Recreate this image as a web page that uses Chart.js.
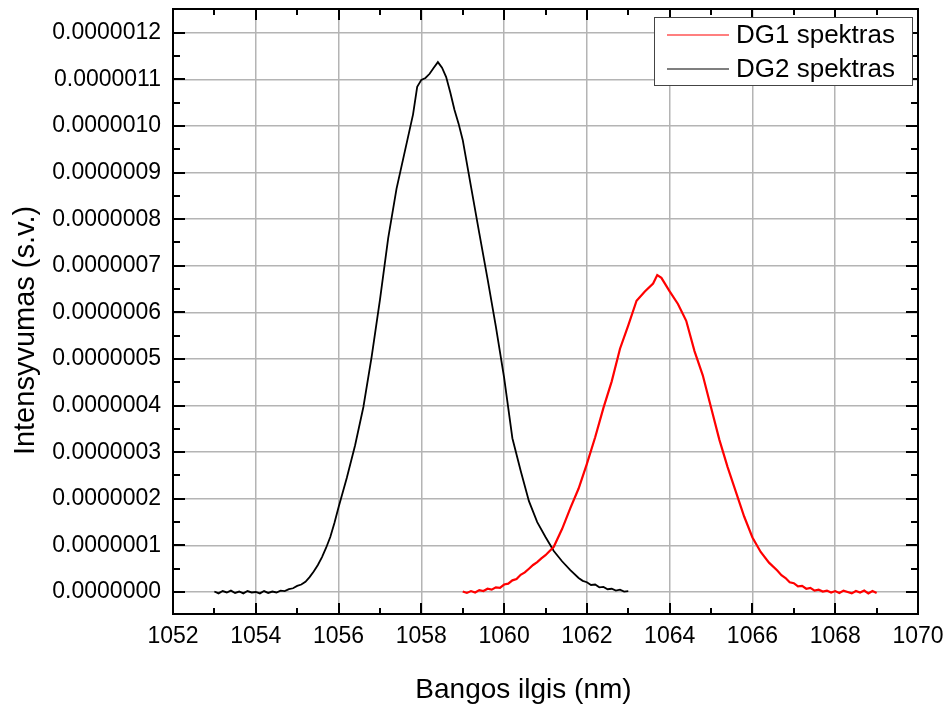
<!DOCTYPE html>
<html>
<head>
<meta charset="utf-8">
<script src="https://cdn.jsdelivr.net/npm/chart.js@4.4.0/dist/chart.umd.min.js"></script>
<style>
  html, body { margin: 0; padding: 0; background: #fff; }
  #wrap { width: 949px; height: 708px; }
</style>
</head>
<body>
<div id="wrap"><canvas id="chart"></canvas></div>
<script>
// tick labels
const xTicks = [1052, 1054, 1056, 1058, 1060, 1062, 1064, 1066, 1068, 1070]
const yTicks = [0, 1, 2, 3, 4, 5, 6, 7, 8, 9, 10, 11, 12]   // x 1e-7
const yUnit = 1e-7

const xTitle = 'Bangos ilgis (nm)'
const yTitle = 'Intensyvumas (s.v.)'
const seriesNames = ['DG1 spektras', 'DG2 spektras']
const seriesColors = ['#ff0000', '#000000']

// DG1 (red), intensity in units of 1e-7
const dg1Wavelength = [1059.0, 1059.1, 1059.2, 1059.3, 1059.4, 1059.5, 1059.6, 1059.7, 1059.8, 1059.9,
  1060.0, 1060.1, 1060.2, 1060.3, 1060.4, 1060.5, 1060.6, 1060.7, 1060.8, 1060.9,
  1061.0, 1061.2, 1061.4, 1061.6, 1061.8, 1062.0, 1062.2, 1062.4, 1062.6, 1062.8,
  1063.0, 1063.2, 1063.4, 1063.6, 1063.7, 1063.8, 1064.0, 1064.2, 1064.4, 1064.6,
  1064.8, 1065.0, 1065.2, 1065.4, 1065.6, 1065.8, 1066.0, 1066.2, 1066.4, 1066.6,
  1066.7, 1066.8, 1066.9, 1067.0, 1067.1, 1067.2, 1067.3, 1067.4, 1067.5, 1067.6,
  1067.7, 1067.8, 1067.9, 1068.0, 1068.1, 1068.2, 1068.3, 1068.4, 1068.5, 1068.6,
  1068.7, 1068.8, 1068.9, 1069.0]
const dg1Intensity = [0.01, -0.02, 0.02, -0.01, 0.04, 0.02, 0.07, 0.05, 0.10, 0.09,
  0.16, 0.18, 0.25, 0.28, 0.37, 0.42, 0.50, 0.58, 0.64, 0.72,
  0.79, 0.97, 1.35, 1.80, 2.22, 2.75, 3.32, 3.95, 4.52, 5.22,
  5.72, 6.25, 6.45, 6.62, 6.80, 6.74, 6.45, 6.18, 5.82, 5.17,
  4.65, 3.96, 3.27, 2.68, 2.15, 1.62, 1.17, 0.86, 0.63, 0.46,
  0.36, 0.30, 0.21, 0.19, 0.12, 0.13, 0.07, 0.09, 0.03, 0.05,
  0.01, 0.03, -0.01, 0.02, -0.02, 0.03, 0.00, -0.03, 0.02, -0.01,
  0.03, -0.03, 0.02, -0.02]

// DG2 (black)
const dg2Wavelength = [1053.0, 1053.1, 1053.2, 1053.3, 1053.4, 1053.5, 1053.6, 1053.7, 1053.8, 1053.9,
  1054.0, 1054.1, 1054.2, 1054.3, 1054.4, 1054.5, 1054.6, 1054.7, 1054.8, 1054.9,
  1055.0, 1055.1, 1055.2, 1055.3, 1055.4, 1055.5, 1055.6, 1055.7, 1055.8, 1055.9,
  1056.0, 1056.2, 1056.4, 1056.6, 1056.8, 1057.0, 1057.2, 1057.4, 1057.6, 1057.8,
  1057.9, 1058.0, 1058.1, 1058.2, 1058.3, 1058.4, 1058.5, 1058.6, 1058.7, 1058.8,
  1058.9, 1059.0, 1059.2, 1059.4, 1059.6, 1059.8, 1060.0, 1060.2, 1060.4, 1060.6,
  1060.8, 1061.0, 1061.2, 1061.4, 1061.6, 1061.8, 1061.9, 1062.0, 1062.1, 1062.2,
  1062.3, 1062.4, 1062.5, 1062.6, 1062.7, 1062.8, 1062.9, 1063.0]
const dg2Intensity = [0.01, -0.03, 0.02, -0.01, 0.03, -0.02, 0.01, -0.03, 0.02, -0.01,
  0.00, -0.03, 0.02, -0.02, 0.01, -0.01, 0.03, 0.02, 0.06, 0.08,
  0.13, 0.16, 0.22, 0.32, 0.44, 0.58, 0.75, 0.95, 1.18, 1.48,
  1.82, 2.45, 3.15, 3.97, 5.05, 6.27, 7.60, 8.65, 9.45, 10.25,
  10.84, 10.99, 11.03, 11.12, 11.25, 11.37, 11.25, 11.05, 10.72, 10.35,
  10.05, 9.70, 8.70, 7.70, 6.72, 5.70, 4.60, 3.30, 2.60, 1.95,
  1.50, 1.18, 0.88, 0.66, 0.47, 0.30, 0.24, 0.21, 0.15, 0.16,
  0.10, 0.11, 0.06, 0.07, 0.03, 0.05, 0.01, 0.02]

const FONT = "'Liberation Sans', Arial, sans-serif"

function toPoints(xs, ys){
  return xs.map((x, i) => ({ x: x, y: ys[i] * yUnit }))
}

// inward ticks on all four sides + frame
const frameTicks = {
  id: 'frameTicks',
  afterDraw(chart){
    const ctx = chart.ctx
    const a = chart.chartArea
    const xs = chart.scales.x, ys = chart.scales.y
    ctx.save()
    ctx.strokeStyle = '#000'
    ctx.lineWidth = 2
    ctx.beginPath()
    for (let v = xTicks[0]; v <= xTicks[xTicks.length - 1]; v += 1){
      const px = Math.round(xs.getPixelForValue(v))
      const len = xTicks.includes(v) ? 11 : 6
      ctx.moveTo(px, a.bottom); ctx.lineTo(px, a.bottom - len)
      ctx.moveTo(px, a.top); ctx.lineTo(px, a.top + len)
    }
    for (let k = 0; k <= yTicks[yTicks.length - 1] * 2; k++){
      const py = Math.round(ys.getPixelForValue(k / 2 * yUnit))
      const len = (k % 2 === 0) ? 12 : 7
      ctx.moveTo(a.left, py); ctx.lineTo(a.left + len, py)
      ctx.moveTo(a.right, py); ctx.lineTo(a.right - len, py)
    }
    ctx.stroke()
    ctx.strokeRect(a.left, a.top, a.right - a.left, a.bottom - a.top)
    ctx.restore()
  }
}

// axis titles (placed as in the original, a bit off-centre)
const axisTitles = {
  id: 'axisTitles',
  afterDraw(chart){
    const ctx = chart.ctx
    const a = chart.chartArea
    ctx.save()
    ctx.fillStyle = '#000'
    ctx.textAlign = 'center'
    ctx.textBaseline = 'middle'
    ctx.font = '28px ' + FONT
    ctx.fillText(xTitle, (a.left + a.right) / 2 - 22, 690)
    ctx.translate(26, (a.top + a.bottom) / 2 + 19)
    ctx.rotate(-Math.PI / 2)
    ctx.font = '29px ' + FONT
    ctx.fillText(yTitle, 0, 0)
    ctx.restore()
  }
}

// legend box in the upper right corner
const boxLegend = {
  id: 'boxLegend',
  afterDraw(chart){
    const ctx = chart.ctx
    const a = chart.chartArea
    const x0 = a.right - 264, y0 = a.top + 8, w = 258, h = 68
    ctx.save()
    ctx.fillStyle = '#fff'
    ctx.fillRect(x0, y0, w, h)
    ctx.strokeStyle = '#444'
    ctx.lineWidth = 1
    ctx.strokeRect(x0 + 0.5, y0 + 0.5, w, h)
    ctx.font = '26px ' + FONT
    ctx.textBaseline = 'middle'
    ctx.fillStyle = '#000'
    chart.data.datasets.forEach((ds, i) => {
      const y = y0 + 18 + i * 34
      ctx.strokeStyle = ds.borderColor
      ctx.lineWidth = 1.2
      ctx.beginPath()
      ctx.moveTo(x0 + 13, y); ctx.lineTo(x0 + 75, y)
      ctx.stroke()
      ctx.fillText(ds.label, x0 + 82, y + 1)
    })
    ctx.restore()
  }
}

const chart = new Chart(document.getElementById('chart'), {
  type: 'scatter',
  data: {
    datasets: [
      {
        label: seriesNames[0],
        data: toPoints(dg1Wavelength, dg1Intensity),
        showLine: true,
        borderColor: seriesColors[0],
        borderWidth: 2.2,
        pointRadius: 0,
        tension: 0
      },
      {
        label: seriesNames[1],
        data: toPoints(dg2Wavelength, dg2Intensity),
        showLine: true,
        borderColor: seriesColors[1],
        borderWidth: 1.8,
        pointRadius: 0,
        tension: 0
      }
    ]
  },
  options: {
    responsive: true,
    maintainAspectRatio: false,
    animation: false,
    layout: { padding: { top: 9, right: 31, left: 0, bottom: 0 } },
    plugins: {
      legend: { display: false },
      tooltip: { enabled: false }
    },
    scales: {
      x: {
        type: 'linear',
        min: 1052,
        max: 1070,
        afterBuildTicks: s => { s.ticks = xTicks.map(v => ({ value: v })) },
        afterFit: s => {
          s.height = 94
          s.paddingLeft = 0; s.paddingRight = 0
        },
        ticks: {
          color: '#000',
          font: { family: FONT, size: 23 },
          padding: 9,
          maxRotation: 0,
          callback: v => String(v)
        },
        grid: { color: '#b4b4b4', lineWidth: 1.5, drawTicks: false },
        border: { display: false }
      },
      y: {
        type: 'linear',
        min: -0.472 * yUnit,
        max: 12.51 * yUnit,
        afterBuildTicks: s => { s.ticks = yTicks.map(v => ({ value: v * yUnit })) },
        afterFit: s => {
          s.width = 173
          s.paddingTop = 0; s.paddingBottom = 0
        },
        ticks: {
          color: '#000',
          font: { family: FONT, size: 23 },
          padding: 12,
          callback: v => v.toFixed(7)
        },
        grid: { color: '#b4b4b4', lineWidth: 1.5, drawTicks: false },
        border: { display: false }
      }
    }
  },
  plugins: [frameTicks, axisTitles, boxLegend]
})
</script>
</body>
</html>
